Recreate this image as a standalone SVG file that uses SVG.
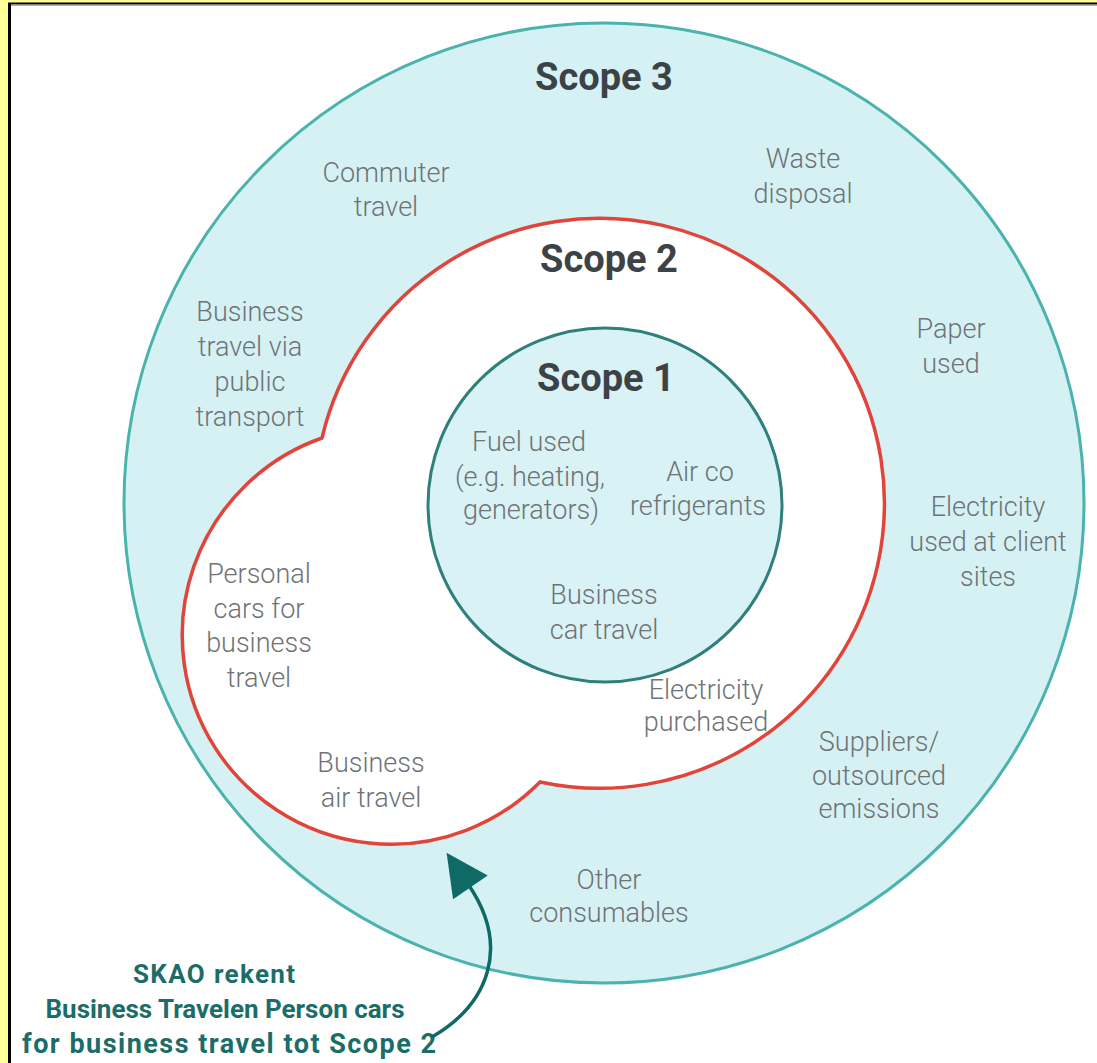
<svg xmlns="http://www.w3.org/2000/svg" width="1097" height="1063" viewBox="0 0 1097 1063">
  <style>
    .item { font-family: Roboto, "Liberation Sans", sans-serif; font-size: 27px; font-weight: 300; fill: #6f7375; text-anchor: middle; }
    .scope { font-family: Roboto, "Liberation Sans", sans-serif; font-size: 38px; font-weight: 700; fill: #3d4246; text-anchor: middle; }
    .note { font-family: Roboto, "Liberation Sans", sans-serif; font-size: 26px; font-weight: 700; fill: #1c6d69; text-anchor: middle; }
  </style>
  <defs>
    <marker id="arrowhead" viewBox="0 0 10 10" refX="1" refY="5" markerWidth="46" markerHeight="42" markerUnits="userSpaceOnUse" orient="auto">
      <path d="M0,0 L10,5 L0,10 z" fill="#0f6a66"/>
    </marker>
  </defs>

  <!-- page frame -->
  <rect x="0" y="0" width="1097" height="1063" fill="#ffff99"/>
  <rect x="9" y="4" width="1088" height="1059" fill="#ffffff"/>
  <line x1="9.5" y1="3" x2="9.5" y2="1063" stroke="#000" stroke-width="3"/>
  <line x1="8" y1="3.5" x2="1097" y2="3.5" stroke="#000" stroke-width="2"/>
  <line x1="11" y1="5.2" x2="1097" y2="5.2" stroke="#888" stroke-width="1"/>

  <!-- Scope 3: outer ring -->
  <g id="scope3">
    <circle cx="604" cy="503" r="480" fill="#d5f1f4" stroke="#4ab3ae" stroke-width="3"/>
  </g>

  <!-- Scope 2: main circle plus left lobe -->
  <g id="scope2">
    <path d="M322,438 A285,285 0 1 1 540,782 A209,209 0 1 1 322,438 Z" fill="#ffffff" stroke="#e0443a" stroke-width="3.5" stroke-linejoin="miter"/>
  </g>

  <!-- Scope 1: inner circle -->
  <g id="scope1">
    <circle cx="605" cy="505" r="177" fill="#d8f2f5" stroke="#2f7f7b" stroke-width="3"/>
  </g>

  <!-- headings -->
  <g id="headings">
    <text class="scope" x="604" y="90">Scope 3</text>
    <text class="scope" x="609" y="272">Scope 2</text>
    <text class="scope" x="606" y="391">Scope 1</text>
  </g>

  <!-- Scope 3 items -->
  <g id="scope3-items">
    <text class="item" x="386" y="182">Commuter</text>
    <text class="item" x="386" y="216">travel</text>
    <text class="item" x="803" y="168">Waste</text>
    <text class="item" x="803" y="203">disposal</text>
    <text class="item" x="250" y="321">Business</text>
    <text class="item" x="250" y="356">travel via</text>
    <text class="item" x="250" y="391">public</text>
    <text class="item" x="250" y="426">transport</text>
    <text class="item" x="951" y="338">Paper</text>
    <text class="item" x="951" y="373">used</text>
    <text class="item" x="988" y="516">Electricity</text>
    <text class="item" x="988" y="551">used at client</text>
    <text class="item" x="988" y="586">sites</text>
    <text class="item" x="879" y="751">Suppliers/</text>
    <text class="item" x="879" y="785">outsourced</text>
    <text class="item" x="879" y="818">emissions</text>
    <text class="item" x="609" y="889">Other</text>
    <text class="item" x="609" y="922">consumables</text>
  </g>

  <!-- Scope 2 items -->
  <g id="scope2-items">
    <text class="item" x="259" y="583">Personal</text>
    <text class="item" x="259" y="618">cars for</text>
    <text class="item" x="259" y="652">business</text>
    <text class="item" x="259" y="687">travel</text>
    <text class="item" x="371" y="772">Business</text>
    <text class="item" x="371" y="807">air travel</text>
    <text class="item" x="706" y="699">Electricity</text>
    <text class="item" x="706" y="731">purchased</text>
  </g>

  <!-- Scope 1 items -->
  <g id="scope1-items">
    <text class="item" x="529" y="451">Fuel used</text>
    <text class="item" x="530" y="486">(e.g. heating,</text>
    <text class="item" x="531" y="519">generators)</text>
    <text class="item" x="700" y="481">Air co</text>
    <text class="item" x="698" y="515">refrigerants</text>
    <text class="item" x="604" y="604">Business</text>
    <text class="item" x="604" y="639">car travel</text>
  </g>

  <!-- annotation -->
  <g id="note">
    <text class="note" x="214" y="983" textLength="162" lengthAdjust="spacing">SKAO rekent</text>
    <text class="note" x="225" y="1018" textLength="359" lengthAdjust="spacing">Business Travelen Person cars</text>
    <text class="note" x="229" y="1053" style="font-size:27px" textLength="414" lengthAdjust="spacing">for business travel tot Scope 2</text>
  </g>

  <!-- connectors -->
  <g id="connectors">
    <path d="M432,1037 C487,1005 512,948 468,884" fill="none" stroke="#0f6a66" stroke-width="3.5" marker-end="url(#arrowhead)"/>
  </g>
</svg>
